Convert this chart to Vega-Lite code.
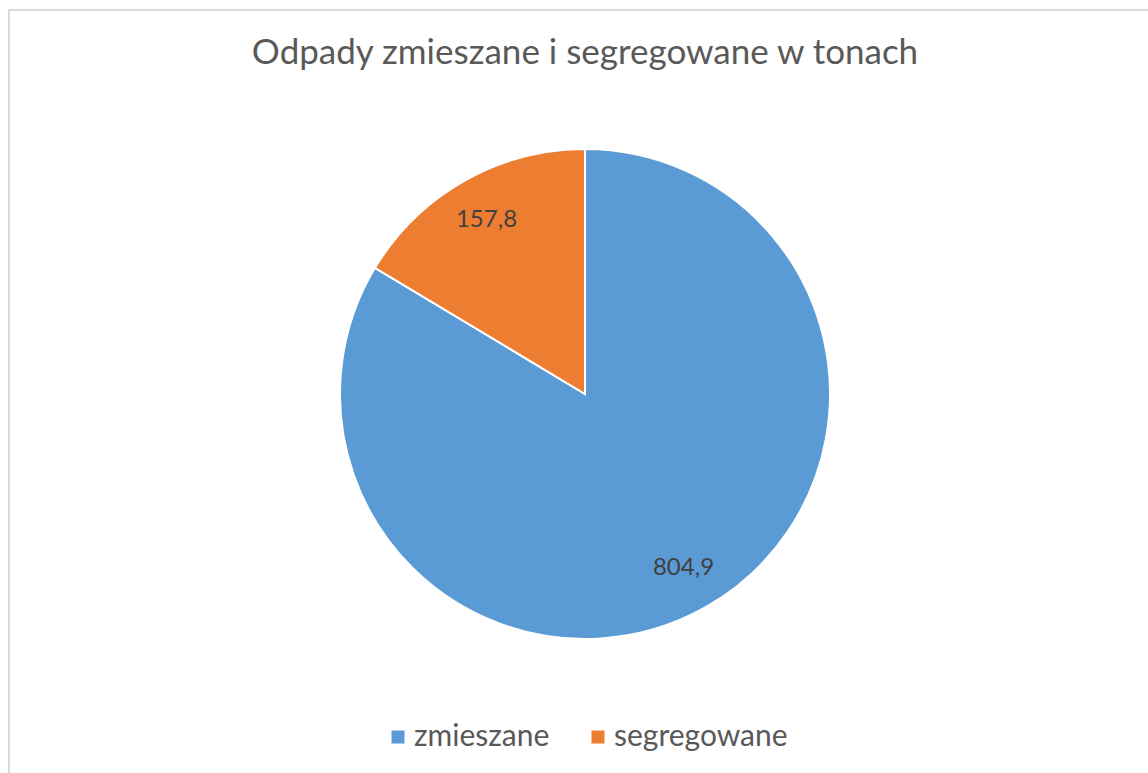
{
  "$schema": "https://vega.github.io/schema/vega-lite/v6.json",
  "autosize": {"type": "none"},
  "padding": {"left": 9, "top": 10, "right": 0, "bottom": 0},
  "width": 1152,
  "height": 768,
  "background": "white",
  "view": {"stroke": "#D0D0D0", "strokeWidth": 1.5},
  "title": {
    "text": "Odpady zmieszane i segregowane w tonach",
    "font": "Lato",
    "fontSize": 35,
    "fontWeight": "normal",
    "color": "#595959",
    "anchor": "middle",
    "frame": "group",
    "baseline": "alphabetic",
    "offset": -53,
    "dy": 36
  },
  "data": {
    "values": [
      {"rodzaj": "zmieszane", "tony": 804.9, "kolejnosc": 1},
      {"rodzaj": "segregowane", "tony": 157.8, "kolejnosc": 2}
    ]
  },
  "encoding": {
    "theta": {"field": "tony", "type": "quantitative", "stack": true},
    "order": {"field": "kolejnosc", "type": "quantitative"},
    "color": {
      "field": "rodzaj",
      "type": "nominal",
      "scale": {"domain": ["zmieszane", "segregowane"], "range": ["#5B9BD5", "#ED7D31"]},
      "legend": {
        "title": null,
        "orient": "none",
        "direction": "horizontal",
        "legendX": 374,
        "legendY": 712,
        "symbolType": "square",
        "symbolSize": 169,
        "symbolStrokeWidth": 0,
        "labelFont": "Lato",
        "labelFontSize": 30,
        "labelColor": "#595959",
        "labelOffset": 1,
        "labelLimit": 400,
        "columnPadding": 33
      }
    }
  },
  "layer": [
    {
      "mark": {"type": "arc", "outerRadius": 245, "stroke": "white", "strokeWidth": 2}
    },
    {
      "mark": {"type": "text", "radius": 200, "font": "Lato", "fontSize": 24, "color": "#404040"},
      "encoding": {
        "text": {"field": "tony", "type": "quantitative", "format": ".1f"},
        "color": {"value": "#404040"}
      }
    }
  ],
  "config": {
    "locale": {"number": {"decimal": ",", "thousands": " ", "grouping": [3], "currency": ["", " zł"]}},
    "view": {"stroke": "#D0D0D0", "strokeWidth": 1.5}
  }
}
